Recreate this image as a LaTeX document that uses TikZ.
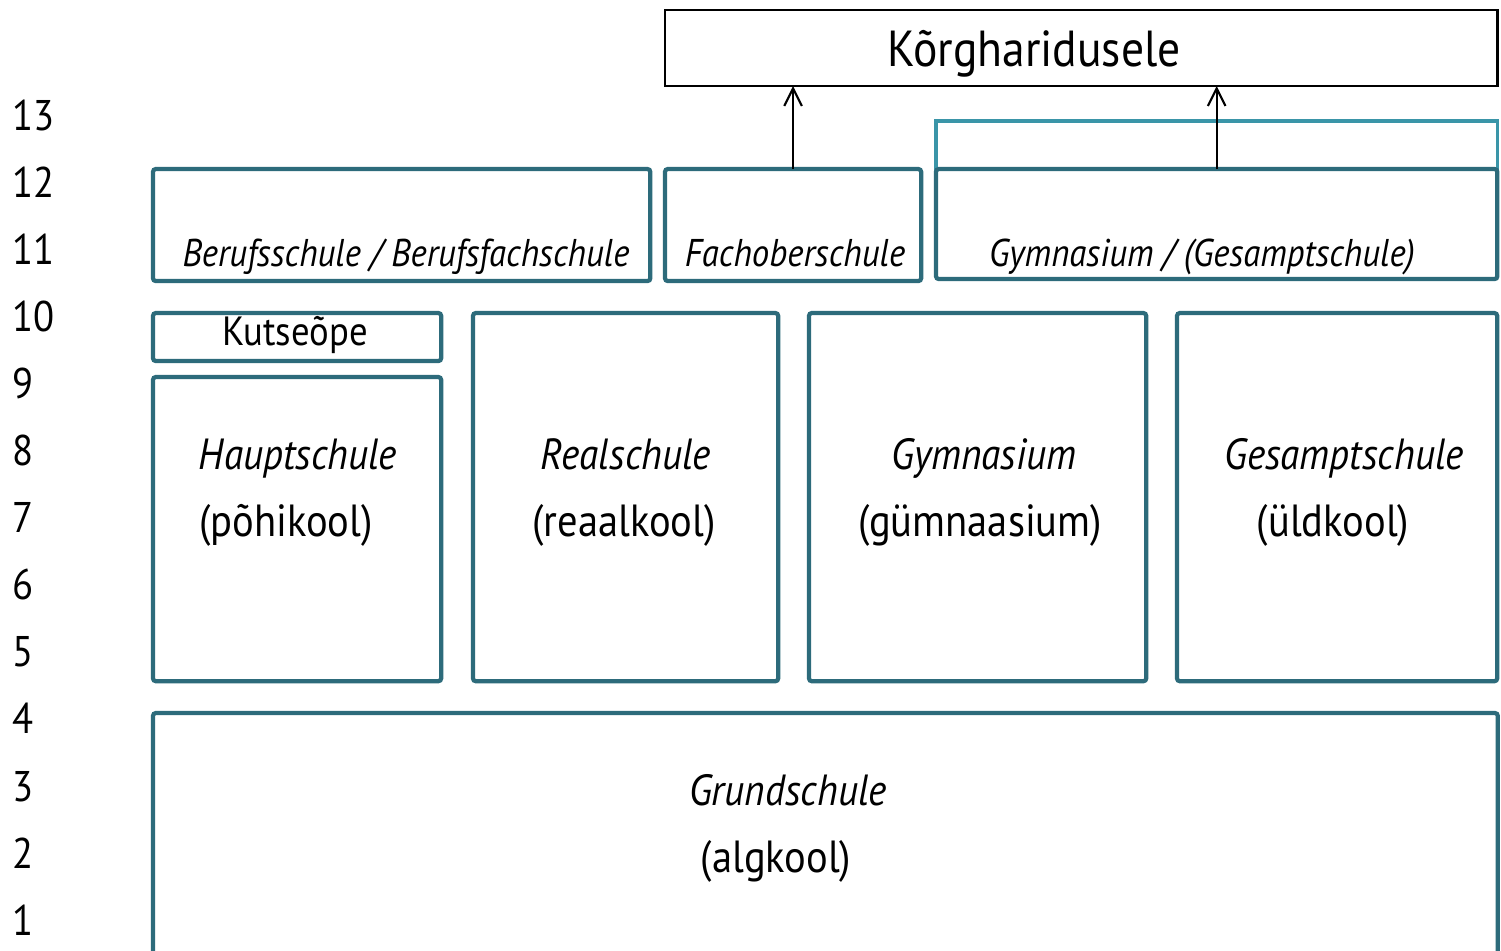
\documentclass[tikz,border=0pt]{standalone}
\usepackage{fontspec}
\setmainfont{PT Sans}[FakeStretch=0.9]
\usetikzlibrary{arrows.meta,positioning}

\definecolor{tealdark}{HTML}{2D6B7B}
\definecolor{teallight}{HTML}{3A95A8}

\tikzset{
  schoolbox/.style={draw=tealdark, line width=1.2pt, rounded corners=0.8pt, anchor=north west, inner sep=0pt, outer sep=0pt},
  txt/.style={anchor=base, inner sep=0pt, font=\fontsize{12.8}{15}\selectfont},
  ittxt/.style={txt, font=\fontsize{12.4}{15}\selectfont\itshape},
  smalltxt/.style={anchor=base, inner sep=0pt, font=\fontsize{11}{13}\selectfont\itshape},
  grade/.style={anchor=base west, inner sep=0pt, font=\fontsize{12.2}{15}\selectfont},
}

\begin{document}
\begin{tikzpicture}[x=0.01cm, y=-0.01cm]
		\clip (0,0) rectangle (1501,950);

		% Grade numbers
		\foreach \g [count=\i from 0] in {13,12,...,1}
			\node[grade] (g\g) at (12,{130+67.1*\i}) {\g};

		% Higher education
		\node[draw=black, line width=0.6pt, anchor=north west, minimum width=8.32cm, minimum height=0.76cm, inner sep=0pt, outer sep=0pt] (hoch) at (665,10) {};
		\node[txt, font=\fontsize{14.4}{17}\selectfont] at (1034,66) {Kõrgharidusele};

		% Upper secondary
		\node[schoolbox, minimum width=4.97cm, minimum height=1.12cm] (beruf) at (153,169) {};
		\node[smalltxt] at (406,266) {Berufsschule / Berufsfachschule};
		\node[schoolbox, minimum width=2.56cm, minimum height=1.12cm] (fos) at (665,169) {};
		\node[smalltxt] at (795,266) {Fachoberschule};
		\node[draw=teallight, line width=1pt, anchor=north west, minimum width=5.61cm, minimum height=0.48cm, inner sep=0pt, outer sep=0pt] (gymext) at (936,121) {};
		\node[schoolbox, minimum width=5.61cm, minimum height=1.10cm] (gymo) at (936,169) {};
		\node[smalltxt] at (1202,266) {Gymnasium / (Gesamptschule)};

		% Lower secondary
		\node[schoolbox, minimum width=2.88cm, minimum height=0.48cm] (kutse) at (153,313) {};
		\node[txt, font=\fontsize{11.6}{14}\selectfont] at (295,345) {Kutseõpe};
		\node[schoolbox, minimum width=2.88cm, minimum height=3.04cm] (haupt) at (153,377) {};
		\node[ittxt] at (298,469) {Hauptschule};
		\node[txt] at (286,536) {(põhikool)};
		\node[schoolbox, minimum width=3.05cm, minimum height=3.68cm] (real) at (473,313) {};
		\node[ittxt] at (626,469) {Realschule};
		\node[txt] at (624,536) {(reaalkool)};
		\node[schoolbox, minimum width=3.37cm, minimum height=3.68cm] (gym) at (809,313) {};
		\node[ittxt] at (984,469) {Gymnasium};
		\node[txt] at (980,536) {(gümnaasium)};
		\node[schoolbox, minimum width=3.20cm, minimum height=3.68cm] (gesamt) at (1177,313) {};
		\node[ittxt] at (1344,469) {Gesamptschule};
		\node[txt] at (1333,536) {(üldkool)};

		% Primary
		\node[schoolbox, minimum width=13.44cm, minimum height=2.60cm] (grund) at (153,713) {};
		\node[ittxt] at (788,805) {Grundschule};
		\node[txt] at (776,872) {(algkool)};

		% Arrows to higher education
		\draw[line width=0.6pt, -{Straight Barb[length=5pt,width=5pt]}] (fos.north) -- (fos.north |- hoch.south);
		\draw[line width=0.6pt, -{Straight Barb[length=5pt,width=5pt]}] (gymo.north) -- (gymo.north |- hoch.south);
	\end{tikzpicture}
\end{document}
